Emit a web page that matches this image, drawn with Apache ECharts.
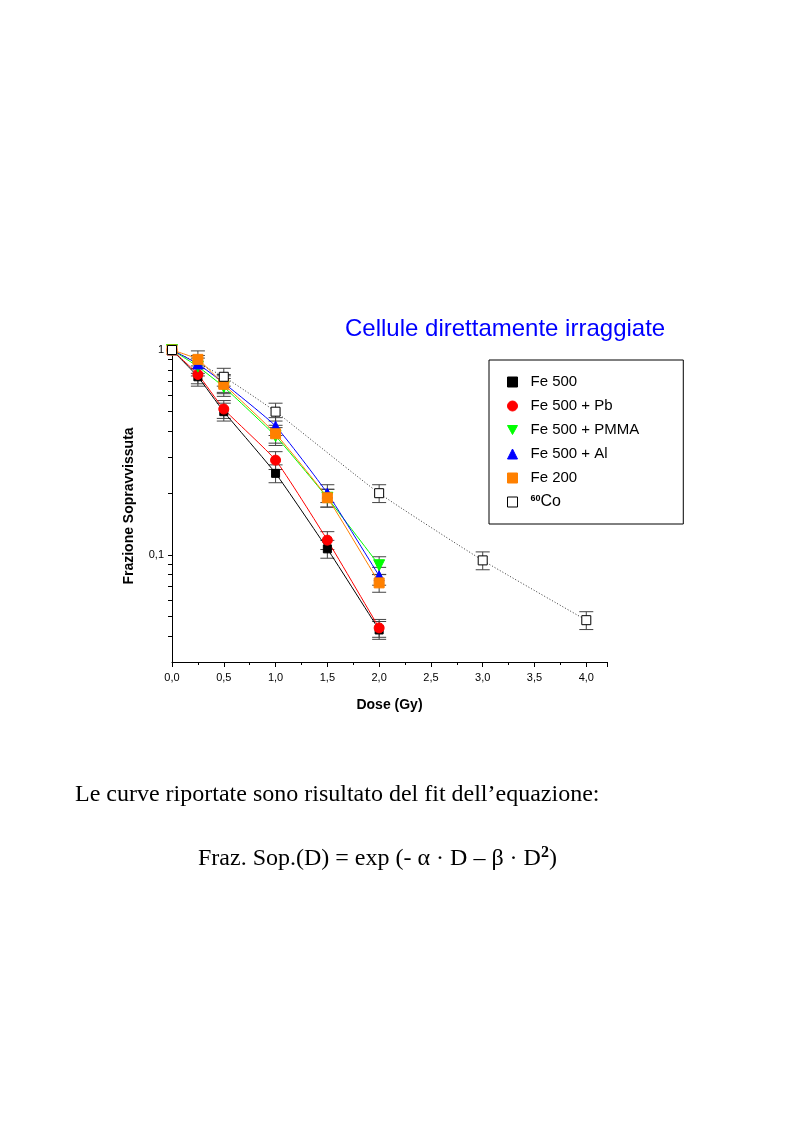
<!DOCTYPE html>
<html><head><meta charset="utf-8">
<script src="https://cdn.jsdelivr.net/npm/echarts@6/dist/echarts.min.js"></script>
<style>body{margin:0;background:#fff}#c{width:793px;height:1123px}</style>
</head><body><div id="c"></div>
<script>
const doseFe = [0, 0.25, 0.5, 1.0, 1.5, 2.0];
const fe500 = [1, 0.74, 0.50, 0.25, 0.107, 0.043];
const fe500Pb = [1, 0.76, 0.515, 0.29, 0.118, 0.044];
const fe500PMMA = [1, 0.83, 0.66, 0.38, 0.19, 0.089];
const fe500Al = [1, 0.855, 0.69, 0.425, 0.20, 0.079];
const fe200 = [1, 0.90, 0.68, 0.39, 0.19, 0.073];
const doseCo = [0, 0.5, 1.0, 2.0, 3.0, 4.0];
const co60 = [1, 0.74, 0.50, 0.20, 0.094, 0.048];
const errFrac = 0.1;
const xTicks = [0,0.5,1,1.5,2,2.5,3,3.5,4];
const yTicks = [0.04,0.05,0.06,0.07,0.08,0.09,0.1,0.2,0.3,0.4,0.5,0.6,0.7,0.8,0.9,1];

const chart = echarts.init(document.getElementById('c'));
const pairs = (xs, ys) => xs.map((x,i)=>[x, ys[i]]);
const defs = [
  {name:'Fe 500', xs:doseFe, ys:fe500, color:'#000', symbol:'rect', size:8, line:'solid'},
  {name:'Fe 500 + Pb', xs:doseFe, ys:fe500Pb, color:'#ff0000', symbol:'circle', size:10, line:'solid'},
  {name:'Fe 500 + PMMA', xs:doseFe, ys:fe500PMMA, color:'#00ff00', symbol:'path://M0,0 L10,0 L5,9 Z', size:11, line:'solid'},
  {name:'Fe 500 + Al', xs:doseFe, ys:fe500Al, color:'#0000ff', symbol:'triangle', size:10, line:'solid'},
  {name:'Fe 200', xs:doseFe, ys:fe200, color:'#ff8000', symbol:'rect', size:10, line:'solid'},
  {name:'60Co', xs:doseCo, ys:co60, color:'#000', symbol:'rect', size:9, line:'dotted', empty:true}
];
const series = [];
defs.forEach(d=>{
  series.push({
    type:'custom', name:d.name+'_err', data:pairs(d.xs,d.ys).slice(1), z:1, silent:true,
    renderItem:(p,api)=>{
      const x=api.value(0), y=api.value(1);
      const a=api.coord([x,y*(1+errFrac)]), b=api.coord([x,y*(1-errFrac)]);
      const st={stroke:'#444',lineWidth:1};
      return {type:'group',children:[
        {type:'line',shape:{x1:a[0],y1:a[1],x2:b[0],y2:b[1]},style:st},
        {type:'line',shape:{x1:a[0]-7,y1:a[1],x2:a[0]+7,y2:a[1]},style:st},
        {type:'line',shape:{x1:b[0]-7,y1:b[1],x2:b[0]+7,y2:b[1]},style:st}]};
    }
  });
  series.push({
    type:'line', name:d.name, data:pairs(d.xs,d.ys), z:3,
    symbol:d.symbol, symbolSize:d.size, smooth:0.15,
    lineStyle:{color:d.line==='dotted'?'#333':d.color,width:1,type:d.line==='dotted'?[1,2]:'solid'},
    itemStyle:{color:d.empty?'#fff':d.color,borderColor:d.empty?'#000':d.color,borderWidth:1}
  });
});
const legendIcon = s => s==='rect'?'rect':s==='circle'?'circle':s;
chart.setOption({
  animation:false,
  title:{text:'Cellule direttamente irraggiate',left:340,top:312,
    textStyle:{color:'#0000ff',fontFamily:'Liberation Sans',fontWeight:'normal',fontSize:24}},
  grid:{left:172,top:350,right:186,bottom:461,containLabel:false},
  xAxis:{type:'value',min:0,max:4.2,interval:0.5,
    axisLine:{lineStyle:{color:'#000'}},axisTick:{length:5,lineStyle:{color:'#000'}},
    minorTick:{show:true,splitNumber:2,length:3,lineStyle:{color:'#000'}},
    splitLine:{show:false},
    axisLabel:{color:'#000',fontFamily:'Liberation Sans',fontSize:11,margin:10,
      formatter:v=>xTicks.includes(v)?v.toFixed(1).replace('.',','):''},
    name:'Dose (Gy)',nameLocation:'middle',nameGap:36,
    nameTextStyle:{color:'#000',fontFamily:'Liberation Sans',fontWeight:'bold',fontSize:14}},
  yAxis:{type:'log',logBase:10,min:0.03,max:1,
    axisLine:{show:true,lineStyle:{color:'#000'}},
    axisTick:{show:true,length:4,lineStyle:{color:'#000'},customValues:yTicks},
    splitLine:{show:false},
    axisLabel:{color:'#000',fontFamily:'Liberation Sans',fontSize:11,customValues:[0.1,1],
      formatter:v=>v>=1?'1':'0,1'},
    name:'Frazione Sopravvissuta',nameLocation:'middle',nameGap:36,nameRotate:90,
    nameTextStyle:{color:'#000',fontFamily:'Liberation Sans',fontWeight:'bold',fontSize:14}},
  legend:{orient:'vertical',left:489,top:360,
    padding:[14,44,14,18],itemGap:8,itemWidth:10,itemHeight:10,
    borderColor:'#000',borderWidth:1,borderRadius:0,
    data:defs.map(d=>({name:d.name,icon:legendIcon(d.symbol),
      itemStyle:{color:d.empty?'#fff':d.color,borderColor:d.empty?'#000':d.color,borderWidth:1}})),
    itemStyle:{},lineStyle:{width:0,opacity:0},
    formatter:n=>n==='60Co'?'{sup|60}{b|Co}':n,
    textStyle:{color:'#000',fontFamily:'Liberation Sans',fontSize:15,lineHeight:16,padding:[0,0,0,8],
      rich:{sup:{fontSize:9,fontWeight:'bold',verticalAlign:'top',padding:[0,0,8,0]},b:{fontSize:16}}}},
  series:series,
  graphic:[
    {type:'text',left:75,top:783,style:{text:'Le curve riportate sono risultato del fit dell\u2019equazione:',
      font:'24px "Liberation Serif"',fill:'#000'}},
    {type:'text',left:198,top:845,style:{text:'Fraz. Sop.(D) = exp (- \u03b1 \u00b7 D \u2013 \u03b2 \u00b7 D{s|2})',
      font:'24px "Liberation Serif"',fill:'#000',
      rich:{s:{font:'bold 16px "Liberation Serif"',verticalAlign:'top',padding:[0,0,12,0]}}}}
  ]
});
</script></body></html>
